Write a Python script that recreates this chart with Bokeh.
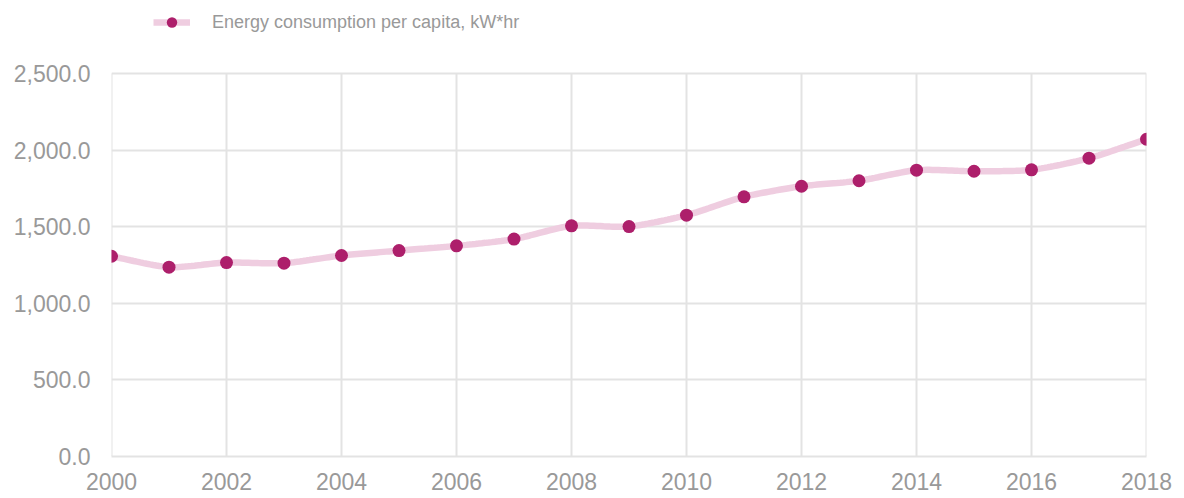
import numpy as np
from bokeh.plotting import figure
from bokeh.models import (ColumnDataSource, NumeralTickFormatter, FixedTicker,
                          Range1d, Legend, LegendItem)
from bokeh.embed import file_html
from bokeh.resources import INLINE

years = [2000, 2001, 2002, 2003, 2004, 2005, 2006, 2007, 2008, 2009,
         2010, 2011, 2012, 2013, 2014, 2015, 2016, 2017, 2018]
consumption = [1307, 1236, 1266, 1262, 1312, 1344, 1375, 1419, 1506, 1501,
               1575, 1695, 1764, 1800, 1869, 1862, 1871, 1947, 2071]
series_name = "Energy consumption per capita, kW*hr"
x_ticks = list(range(2000, 2019, 2))
y_ticks = [0, 500, 1000, 1500, 2000, 2500]

Y_TOP = y_ticks[-1]
# frame extends above the top tick so the legend can sit inside it
Y_END = Y_TOP * 456 / 383

# smooth curve through the data points (Catmull-Rom spline)
def smooth(xs, ys, n=20):
    xs = np.asarray(xs, float)
    ys = np.asarray(ys, float)
    px = np.concatenate([[2 * xs[0] - xs[1]], xs, [2 * xs[-1] - xs[-2]]])
    py = np.concatenate([[2 * ys[0] - ys[1]], ys, [2 * ys[-1] - ys[-2]]])
    ox, oy = [], []
    for i in range(1, len(px) - 2):
        t = np.linspace(0, 1, n, endpoint=False)
        for arr, out in ((px, ox), (py, oy)):
            p0, p1, p2, p3 = arr[i - 1], arr[i], arr[i + 1], arr[i + 2]
            m1 = (p2 - p0) / 2 * 0.7
            m2 = (p3 - p1) / 2 * 0.7
            h00 = 2 * t**3 - 3 * t**2 + 1
            h10 = t**3 - 2 * t**2 + t
            h01 = -2 * t**3 + 3 * t**2
            h11 = t**3 - t**2
            out.extend(h00 * p1 + h10 * m1 + h01 * p2 + h11 * m2)
    ox.append(xs[-1])
    oy.append(ys[-1])
    return [float(v) for v in ox], [float(v) for v in oy]

sx, sy = smooth(years, consumption)

p = figure(width=1184, height=498, output_backend="svg", toolbar_location=None,
           x_range=Range1d(years[0], years[-1]), y_range=Range1d(0, Y_END),
           min_border_left=111, min_border_right=38, min_border_top=0,
           min_border_bottom=42)
p.outline_line_color = None
p.background_fill_color = "white"
p.border_fill_color = "white"

# vertical grid lines, only over the 0..2500 span
p.segment(x0=x_ticks, x1=x_ticks, y0=[0] * len(x_ticks), y1=[Y_TOP] * len(x_ticks),
          line_color="#e3e3e3", line_width=2)
p.xgrid.visible = False

line_src = ColumnDataSource(dict(x=sx, y=sy))
pt_src = ColumnDataSource(dict(x=years, y=consumption))

ln = p.line("x", "y", source=line_src, line_color="#efcde0", line_width=6.5)
pts = p.scatter("x", "y", source=pt_src, size=13, fill_color="#ad1f6b",
                line_color="#ad1f6b", line_width=0)

p.xaxis.ticker = FixedTicker(ticks=x_ticks)
p.yaxis.ticker = FixedTicker(ticks=y_ticks)
p.ygrid.ticker = FixedTicker(ticks=y_ticks)
p.yaxis.formatter = NumeralTickFormatter(format="0,0.0")

for ax in (p.xaxis[0], p.yaxis[0]):
    ax.major_label_text_font = "Liberation Sans"
    ax.major_label_text_font_size = "23px"
    ax.major_label_text_color = "#999999"
    ax.major_tick_line_color = None
    ax.minor_tick_line_color = None
p.yaxis.axis_line_color = None
p.xaxis.axis_line_color = "#e3e3e3"
p.xaxis.axis_line_width = 2
p.yaxis.major_label_standoff = 15
p.xaxis.major_label_standoff = 10

p.ygrid.grid_line_color = "#e3e3e3"
p.ygrid.grid_line_width = 2

legend = Legend(items=[LegendItem(label=series_name, renderers=[ln, pts])],
                location=(42, 421), orientation="horizontal",
                label_text_font="Liberation Sans", label_text_font_size="18px",
                label_text_color="#999999", glyph_width=37, glyph_height=26,
                label_standoff=22, border_line_color=None,
                background_fill_alpha=0, padding=0, margin=0)
p.add_layout(legend, "center")

open("out.html", "w").write(file_html(p, INLINE))
